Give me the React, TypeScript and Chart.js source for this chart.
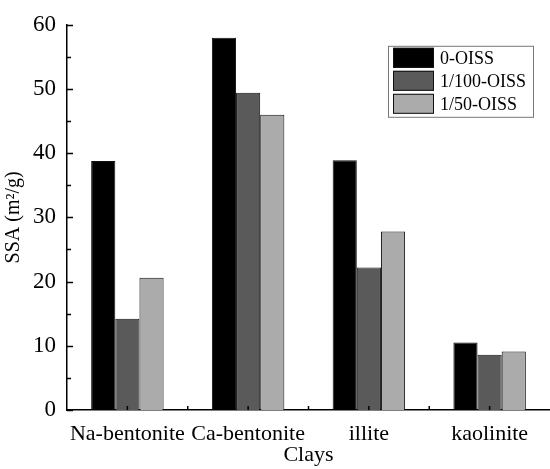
import React, { useEffect, useRef } from "react";
import { Chart, registerables } from "chart.js";

Chart.register(...registerables);

const categories = ["Na-bentonite", "Ca-bentonite", "illite", "kaolinite"];
const seriesNames = ["0-OISS", "1/100-OISS", "1/50-OISS"];
const oiss0 = [38.8, 58.0, 38.9, 10.5];
const oiss100 = [14.2, 49.4, 22.2, 8.6];
const oiss50 = [20.6, 46.0, 27.8, 9.1];
const seriesColors = ["#000000", "#5a5a5a", "#ababab"];
const yMin = 0;
const yMax = 60;
const yStep = 5;

const FONT = "'Liberation Serif', 'Times New Roman', serif";

const inwardTicks = {
  id: "inwardTicks",
  afterDraw(chart: any) {
    const ctx = chart.ctx;
    const y = chart.scales.y;
    const x = chart.scales.x;
    const area = chart.chartArea;
    ctx.save();
    ctx.strokeStyle = "#000";
    ctx.lineWidth = 1.5;
    y.ticks.forEach((t: any) => {
      const py = Math.round(y.getPixelForValue(t.value)) + 0.5;
      const major = t.value % 10 === 0;
      const len = major ? 6 : 4;
      ctx.beginPath();
      ctx.moveTo(area.left, py);
      ctx.lineTo(area.left + len, py);
      ctx.stroke();
    });
    const n = categories.length;
    for (let i = 0; i < n; i++) {
      const cx = x.getPixelForValue(i);
      ctx.beginPath();
      ctx.moveTo(cx, area.bottom);
      ctx.lineTo(cx, area.bottom - 4);
      ctx.stroke();
      if (i < n - 1) {
        const ex = (cx + x.getPixelForValue(i + 1)) / 2;
        ctx.beginPath();
        ctx.moveTo(ex, area.bottom);
        ctx.lineTo(ex, area.bottom - 4);
        ctx.stroke();
      }
    }
    ctx.restore();
  },
};

const boxLegend = {
  id: "boxLegend",
  afterDraw(chart: any) {
    const ctx = chart.ctx;
    const area = chart.chartArea;
    const right = area.right - 17;
    const top = area.top + 21;
    const w = 145;
    const rowH = 23;
    const h = rowH * chart.data.datasets.length + 2;
    const left = right - w;
    ctx.save();
    ctx.fillStyle = "#fff";
    ctx.fillRect(left, top, w, h);
    ctx.strokeStyle = "#777";
    ctx.lineWidth = 1;
    ctx.strokeRect(left + 0.5, top + 0.5, w, h);
    ctx.font = `18px ${FONT}`;
    ctx.textBaseline = "middle";
    ctx.textAlign = "left";
    chart.data.datasets.forEach((ds: any, i: number) => {
      const ry = top + 2 + i * rowH;
      ctx.fillStyle = ds.backgroundColor;
      ctx.fillRect(left + 5, ry, 41, 20);
      ctx.strokeStyle = "#111";
      ctx.strokeRect(left + 5.5, ry + 0.5, 40, 19);
      ctx.fillStyle = "#000";
      ctx.fillText(ds.label, left + 52, ry + 11);
    });
    ctx.restore();
  },
};

export default function App() {
  const ref = useRef<HTMLCanvasElement | null>(null);
  useEffect(() => {
    if (!ref.current) return;
    const data = [oiss0, oiss100, oiss50];
    const chart = new Chart(ref.current, {
      type: "bar",
      data: {
        labels: categories,
        datasets: seriesNames.map((name, i) => ({
          label: name,
          data: data[i],
          backgroundColor: seriesColors[i],
          borderColor: "#111",
          borderWidth: 1,
          barPercentage: 1,
          categoryPercentage: 0.6,
        })),
      },
      options: {
        animation: false,
        responsive: false,
        maintainAspectRatio: false,
        layout: { padding: { top: 20, right: 0, left: 0, bottom: 0 } },
        plugins: {
          legend: { display: false },
          tooltip: { enabled: false },
        },
        scales: {
          x: {
            grid: { display: false, drawTicks: false },
            border: { display: true, color: "#000", width: 1.5 },
            ticks: {
              color: "#000",
              font: { family: FONT, size: 22 },
              padding: 11,
              maxRotation: 0,
            },
            title: {
              display: true,
              text: "Clays",
              color: "#000",
              font: { family: FONT, size: 22 },
              padding: { top: 0, bottom: 1 },
            },
            afterFit(scale: any) {
              scale.height = 59;
            },
          },
          y: {
            min: yMin,
            max: yMax,
            grid: { display: false, drawTicks: false },
            border: { display: true, color: "#000", width: 1.5 },
            ticks: {
              stepSize: yStep,
              color: "#000",
              font: { family: FONT, size: 23 },
              padding: 11,
              callback: (v: any) => (Number(v) % 10 === 0 ? String(v) : ""),
            },
            title: {
              display: true,
              text: "SSA (m²/g)",
              color: "#000",
              font: { family: FONT, size: 20 },
              padding: { top: 2, bottom: 0 },
            },
            afterFit(scale: any) {
              scale.width = 67;
            },
          },
        },
      },
      plugins: [inwardTicks, boxLegend],
    });
    return () => chart.destroy();
  }, []);
  return (
    <div style={{ position: "fixed", left: 0, top: 0, width: 550, height: 469, background: "#fff" }}>
      <canvas ref={ref} width={550} height={469} style={{ width: 550, height: 469 }} />
    </div>
  );
}
